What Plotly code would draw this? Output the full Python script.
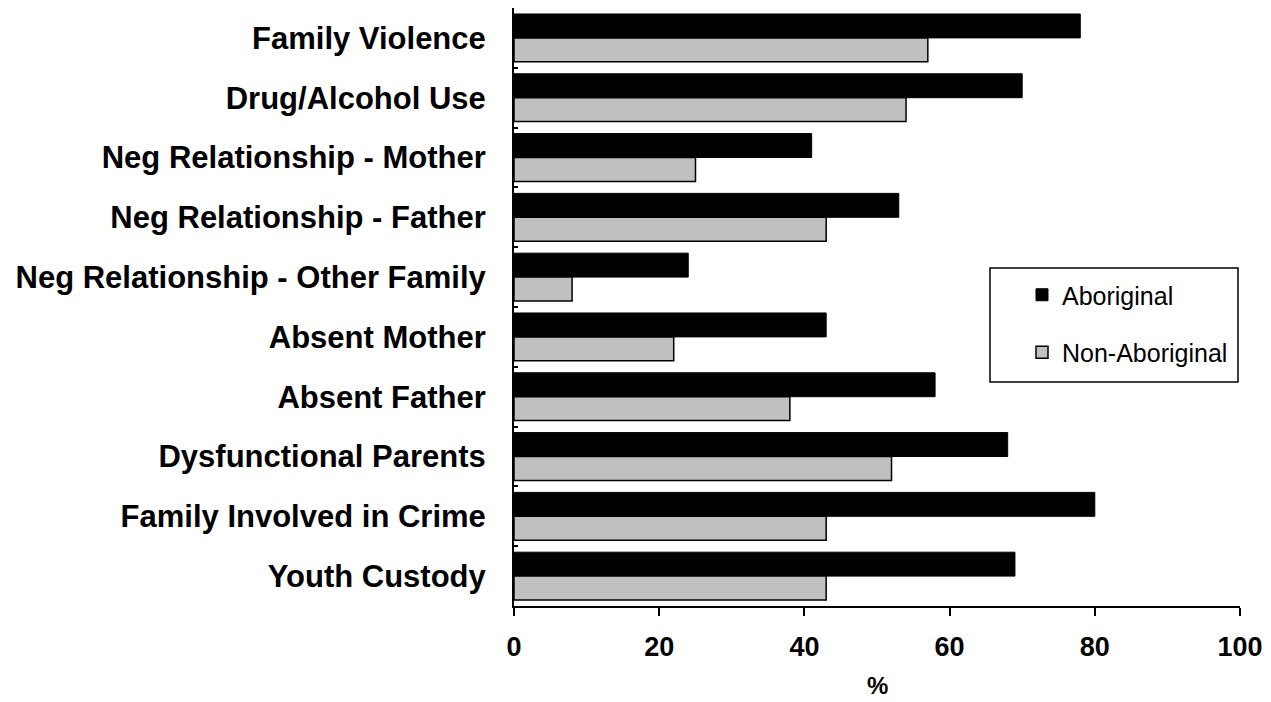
import plotly.graph_objects as go

categories = [
    "Family Violence",
    "Drug/Alcohol Use",
    "Neg Relationship - Mother",
    "Neg Relationship - Father",
    "Neg Relationship - Other Family",
    "Absent Mother",
    "Absent Father",
    "Dysfunctional Parents",
    "Family Involved in Crime",
    "Youth Custody",
]
aboriginal = [78, 70, 41, 53, 24, 43, 58, 68, 80, 69]
non_aboriginal = [57, 54, 25, 43, 8, 22, 38, 52, 43, 43]
x_ticks = [0, 20, 40, 60, 80, 100]

FONT = "Liberation Sans, Arial, sans-serif"

fig = go.Figure()
fig.add_trace(go.Bar(
    y=categories, x=aboriginal, orientation="h", name="Aboriginal",
    marker=dict(color="#000000", line=dict(color="#000000", width=1)),
    legendgroup="a",
))
fig.add_trace(go.Bar(
    y=categories, x=non_aboriginal, orientation="h", name="Non-Aboriginal",
    marker=dict(color="#C0C0C0", line=dict(color="#000000", width=1.5)),
    legendgroup="b",
))

# plot area spans x 514..1240 px and y 8..606 px
PLOT_L, PLOT_R, PLOT_T, PLOT_B = 514, 1240, 8, 606
PW, PH = PLOT_R - PLOT_L, PLOT_B - PLOT_T

fig.update_layout(
    width=1271, height=702,
    margin=dict(l=PLOT_L, r=1271 - PLOT_R, t=PLOT_T, b=702 - PLOT_B),
    paper_bgcolor="white", plot_bgcolor="white",
    barmode="group", bargap=0.2, bargroupgap=0,
    font=dict(family=FONT, color="black"),
    legend=dict(
        x=(1022 - PLOT_L) / PW, y=(PLOT_B - 272) / PH,
        xanchor="left", yanchor="top",
        font=dict(family=FONT, size=25, color="black"),
        bgcolor="rgba(0,0,0,0)", borderwidth=0,
        tracegroupgap=22, traceorder="grouped",
    ),
    xaxis=dict(
        range=[0, 100], tickvals=x_ticks, ticktext=[str(v) for v in x_ticks],
        showgrid=False, zeroline=False,
        showline=True, linecolor="black", linewidth=2,
        ticks="outside", ticklen=8, tickwidth=2, tickcolor="black",
        ticklabelstandoff=8,
        tickfont=dict(family=FONT, size=27, color="black", weight="bold"),
    ),
    yaxis=dict(
        autorange="reversed", showgrid=False,
        showline=True, linecolor="black", linewidth=2,
        ticks="inside", tickson="boundaries", ticklen=4, tickwidth=1.5,
        tickcolor="black", ticklabelstandoff=20,
        tickfont=dict(family=FONT, size=31, color="black", weight="bold"),
    ),
    annotations=[dict(
        text="<b>%</b>", xref="paper", yref="paper",
        x=0.5, y=-(685 - PLOT_B) / PH, xanchor="center", yanchor="middle",
        showarrow=False, font=dict(family=FONT, size=24, color="black"),
    )],
    shapes=[dict(
        type="rect", xref="paper", yref="paper",
        x0=(990 - PLOT_L) / PW, x1=(1238 - PLOT_L) / PW,
        y0=(PLOT_B - 382) / PH, y1=(PLOT_B - 268) / PH,
        line=dict(color="black", width=1.5), fillcolor="rgba(0,0,0,0)",
    )],
)

fig.write_html("out.html")
